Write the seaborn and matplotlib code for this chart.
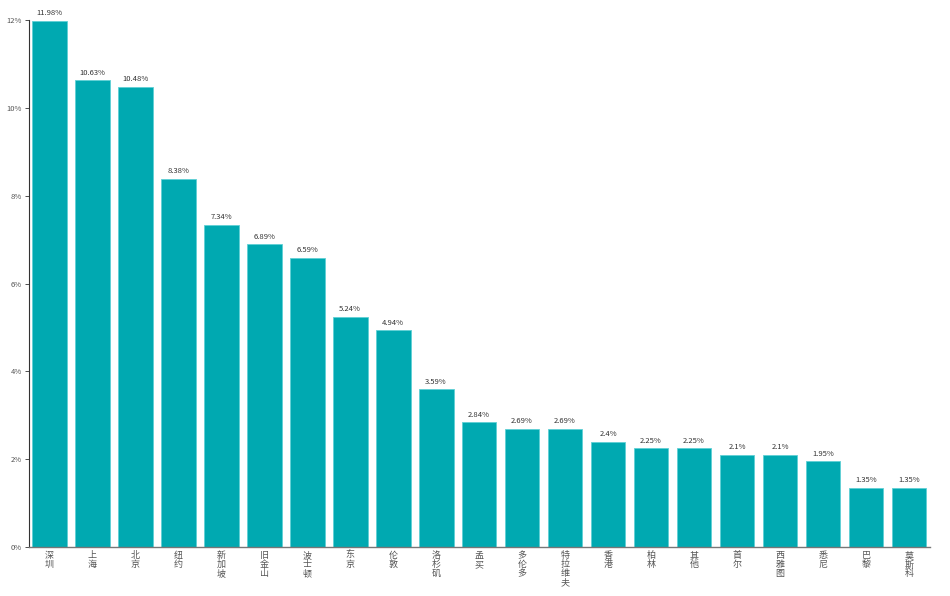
import matplotlib
matplotlib.use("Agg")
import matplotlib.pyplot as plt
import seaborn as sns
import pandas as pd

cities = ["深圳", "上海", "北京", "纽约", "新加坡", "旧金山", "波士顿", "东京", "伦敦", "洛杉矶",
          "孟买", "多伦多", "特拉维夫", "香港", "柏林", "其他", "首尔", "西雅图", "悉尼", "巴黎", "莫斯科"]
shares = [11.98, 10.63, 10.48, 8.38, 7.34, 6.89, 6.59, 5.24, 4.94, 3.59,
          2.84, 2.69, 2.69, 2.4, 2.25, 2.25, 2.1, 2.1, 1.95, 1.35, 1.35]
value_labels = ["11.98%", "10.63%", "10.48%", "8.38%", "7.34%", "6.89%", "6.59%", "5.24%", "4.94%", "3.59%",
                "2.84%", "2.69%", "2.69%", "2.4%", "2.25%", "2.25%", "2.1%", "2.1%", "1.95%", "1.35%", "1.35%"]
y_ticks = [0, 2, 4, 6, 8, 10, 12]

sns.set_style("white")
plt.rcParams["font.family"] = ["Noto Sans CJK SC", "DejaVu Sans"]

df = pd.DataFrame({"city": cities, "share": shares})

fig = plt.figure(figsize=(9.5, 5.96), dpi=100)
ax = fig.add_axes([0.0305, 0.0822, 0.9485, 0.8842])
sns.barplot(data=df, x="city", y="share", color="#00a9b1", saturation=1, width=0.81,
            edgecolor="#5fd0d5", linewidth=0.6, ax=ax)

for i, (v, lab) in enumerate(zip(shares, value_labels)):
    ax.text(i, v + 0.08, lab, ha="center", va="bottom", fontsize=5.5, color="#333333")

ax.set_xlim(-0.47, 20.49)
ax.set_ylim(0, 12)
ax.set_yticks(y_ticks)
ax.set_yticklabels([f"{t}%" for t in y_ticks], fontsize=5.5, color="#555555")
ax.set_xticks(range(len(cities)))
ax.set_xticklabels(["\n".join(c) for c in cities], fontsize=6.5, color="#555555", linespacing=1.0)
ax.tick_params(axis="y", length=3, width=0.6, color="#333333", pad=2, left=True)
ax.tick_params(axis="x", length=0, pad=3)
ax.set_xlabel("")
ax.set_ylabel("")

for s in ["top", "right"]:
    ax.spines[s].set_visible(False)
ax.spines["left"].set_color("#333333")
ax.spines["left"].set_linewidth(0.8)
ax.spines["bottom"].set_color("#777777")
ax.spines["bottom"].set_linewidth(1.0)

fig.savefig("out.png", dpi=100)
